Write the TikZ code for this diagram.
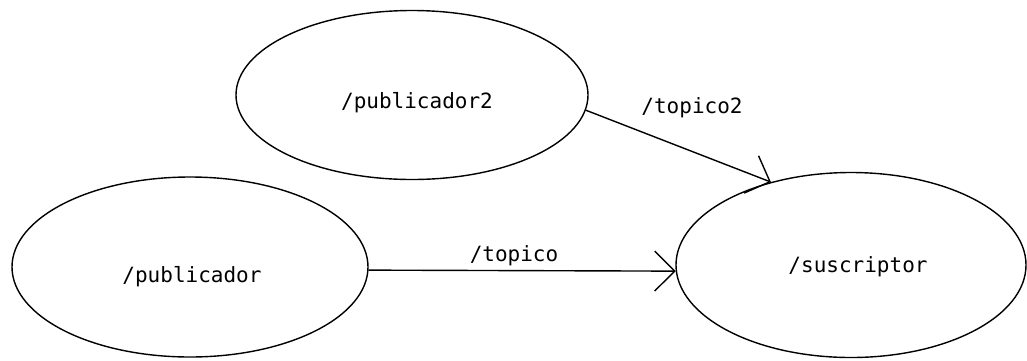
\documentclass[tikz,border=0pt]{standalone}
\usepackage{fontspec}
\setmonofont{DejaVu Sans Mono}
\usetikzlibrary{shapes.geometric,arrows.meta}
\begin{document}
\begin{tikzpicture}[x=1pt,y=-1pt,
  topic/.style={draw, ellipse, line width=1.4pt, inner sep=0pt},
  lbl/.style={font=\ttfamily\fontsize{21}{25}\selectfont, inner sep=0pt, anchor=base},
  msg/.style={line width=1.4pt, -{Straight Barb[length=20pt,width=40pt]}}]
\useasboundingbox (0,0) rectangle (1027,360);

% ROS nodes
\node[topic, minimum width=352pt, minimum height=169pt] (pub2) at (412,95) {};
\node[topic, minimum width=356pt, minimum height=180pt] (pub)  at (190,267) {};
\node[topic, minimum width=350pt, minimum height=185pt] (sus)  at (851,265) {};

\node[lbl] (pub2txt) at (417,108) {/publicador2};
\node[lbl] (pubtxt)  at (192,282) {/publicador};
\node[lbl] (sustxt)  at (858,272) {/suscriptor};

% topics
\draw[msg] (pub2.-5.6) -- (sus.134.6);
\draw[msg] (pub.-1.45) -- (sus.182.1);

\node[lbl] (topic2) at (692,113) {/topico2};
\node[lbl] (topic1) at (514,261) {/topico};
\end{tikzpicture}
\end{document}
